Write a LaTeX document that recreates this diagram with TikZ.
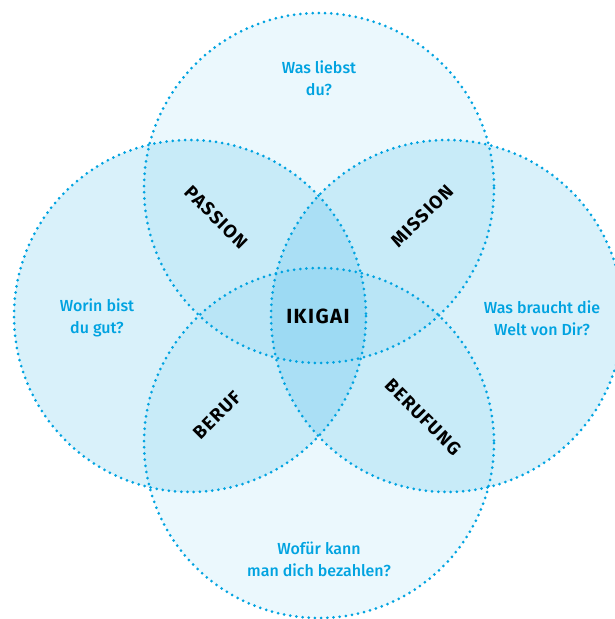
\documentclass[tikz,border=0pt]{standalone}
\usepackage{fontspec}
\setmainfont{Fira Sans}
\newfontfamily\qfont{Fira Sans Medium}
\newfontfamily\lfont{Fira Sans}[UprightFont={* Bold},LetterSpace=7]
\definecolor{qblue}{RGB}{0,163,224}
\definecolor{fblue}{RGB}{0,160,224}
\tikzset{
  ring/.style={draw=qblue, line width=3pt, dash pattern=on 0pt off 6.2pt, line cap=round},
  question/.style={text=qblue, align=center, font=\qfont\fontsize{16}{22}\selectfont},
  label/.style={text=black, font=\lfont\fontsize{18.5}{20}\selectfont, inner sep=0pt},
}
\begin{document}
\begin{tikzpicture}[x=1pt,y=-1pt]
\useasboundingbox (0,0) rectangle (614,619);
\coordinate (ct) at (319,188);
\coordinate (cb) at (319,443);
\coordinate (cl) at (190,316);
\coordinate (cr) at (447,316);
% fills
\fill[fblue, fill opacity=0.08] (ct) circle (175);
\fill[fblue, fill opacity=0.08] (cb) circle (175);
\fill[fblue, fill opacity=0.15] (cl) circle (176);
\fill[fblue, fill opacity=0.15] (cr) circle (176);
% outlines
\draw[ring] (ct) circle (175);
\draw[ring] (cb) circle (175);
\draw[ring] (cl) circle (176);
\draw[ring] (cr) circle (176);
% questions
\node[question] (qt) at (319,78) {Was liebst\\du?};
\node[question] (ql) at (97,318) {Worin bist\\du gut?};
\node[question] (qr) at (542,318) {Was braucht die\\Welt von Dir?};
\node[question] (qb) at (319,559) {Wofür kann\\man dich bezahlen?};
% labels
\node[label, font=\lfont\fontsize{20.5}{22}\selectfont] (ikigai) at (318,316) {IKIGAI};
\node[label, rotate=-45] (passion) at (216,217) {PASSION};
\node[label, rotate=45] (mission) at (422,216) {MISSION};
\node[label, rotate=45] (beruf) at (217,415) {BERUF};
\node[label, rotate=-45] (berufung) at (423,417) {BERUFUNG};
\end{tikzpicture}
\end{document}
